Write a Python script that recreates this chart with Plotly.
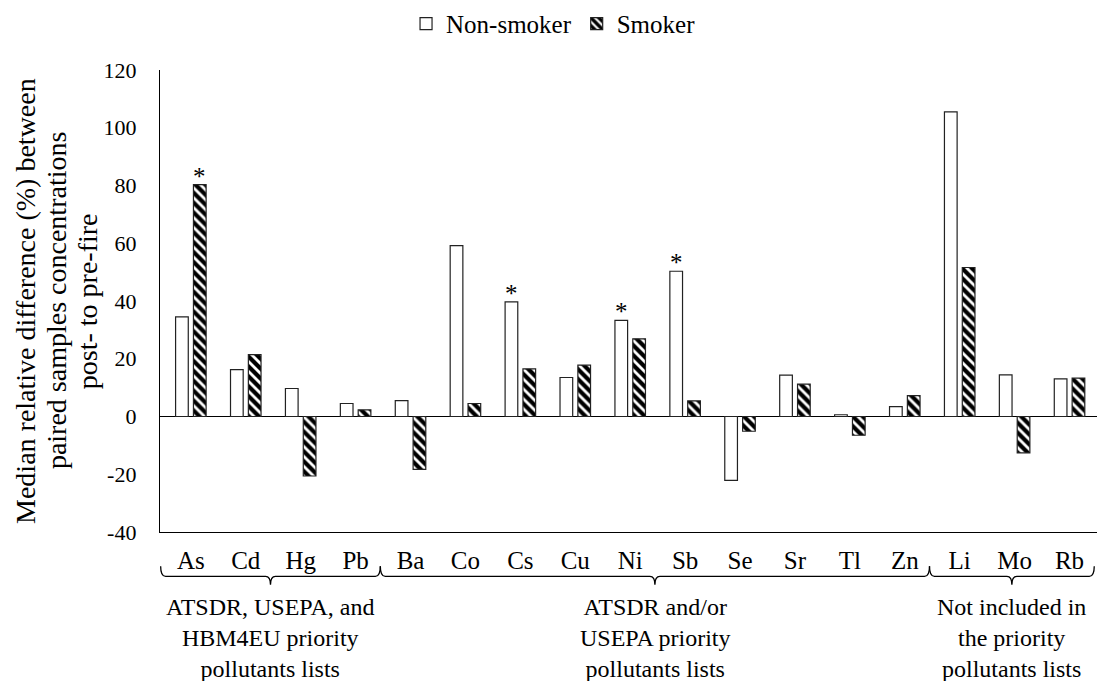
import plotly.graph_objects as go

elements = ["As", "Cd", "Hg", "Pb", "Ba", "Co", "Cs", "Cu", "Ni", "Sb",
            "Se", "Sr", "Tl", "Zn", "Li", "Mo", "Rb"]
non_smoker = [34.5, 16.2, 9.7, 4.5, 5.5, 59.2, 39.7, 13.5, 33.3, 50.3,
              -22.1, 14.3, 0.6, 3.4, 105.5, 14.4, 13.0]
smoker = [80.3, 21.4, -20.6, 2.3, -18.3, 4.5, 16.5, 17.8, 26.9, 5.4,
          -5.1, 11.2, -6.5, 7.2, 51.6, -12.6, 13.3]
# significance marks: (element, series)
stars = [("As", "Smoker"), ("Cs", "Non-smoker"), ("Ni", "Non-smoker"), ("Sb", "Non-smoker")]
# groups: (label, first index, last index)
groups = [
    ("ATSDR, USEPA, and<br>HBM4EU priority<br>pollutants lists", 0, 3),
    ("ATSDR and/or<br>USEPA priority<br>pollutants lists", 4, 13),
    ("Not included in<br>the priority<br>pollutants lists", 14, 16),
]
y_ticks = [-40, -20, 0, 20, 40, 60, 80, 100, 120]
y_ticktext = ["-40", "-20", "0", "20", "40", "60", "80", "100", "120"]
y_title_lines = ["Median relative difference (%) between",
                 "paired samples concentrations",
                 "post- to pre-fire"]

FONT = "Liberation Serif, serif"

fig = go.Figure()
fig.add_trace(go.Bar(
    x=elements, y=non_smoker, name="Non-smoker",
    marker=dict(color="white", line=dict(color="#222222", width=1.2)),
))
fig.add_trace(go.Bar(
    x=elements, y=smoker, name="Smoker",
    marker=dict(color="white", line=dict(color="#222222", width=1.2),
                pattern=dict(shape="\\", fgcolor="black", bgcolor="white",
                             size=7, solidity=0.6, fgopacity=1)),
))

vals = {"Non-smoker": dict(zip(elements, non_smoker)),
        "Smoker": dict(zip(elements, smoker))}
for el, ser in stars:
    fig.add_annotation(
        x=el, y=vals[ser][el], xref="x", yref="y",
        text="*", showarrow=False, yanchor="bottom",
        xshift=-9 if ser == "Non-smoker" else 9, yshift=-7,
        font=dict(family=FONT, size=25, color="black"),
    )

# braces below the category labels
y_top, y_mid, y_bot = -0.074, -0.096, -0.114
for label, i0, i1 in groups:
    x0 = i0 - 0.55
    x1 = min(i1 + 0.45, 16.49)
    xm = (x0 + x1) / 2
    d = 0.09
    path = (f"M {x0},{y_top} Q {x0},{y_mid} {x0+d},{y_mid} "
            f"L {xm-d},{y_mid} Q {xm},{y_mid} {xm},{y_bot} "
            f"Q {xm},{y_mid} {xm+d},{y_mid} "
            f"L {x1-d},{y_mid} Q {x1},{y_mid} {x1},{y_top}")
    fig.add_shape(type="path", path=path, xref="x", yref="paper",
                  line=dict(color="black", width=1.3))
    fig.add_annotation(
        x=xm, y=-0.13, xref="x", yref="paper", text=label,
        showarrow=False, yanchor="top", xanchor="center",
        font=dict(family=FONT, size=24, color="black"),
    )

# y-axis title, one annotation per line for tight line spacing
for k, line in enumerate(y_title_lines):
    fig.add_annotation(
        x=-0.1441 + k * 0.0332, y=0.5, xref="paper", yref="paper", textangle=-90,
        text=line, showarrow=False, xanchor="center", yanchor="middle",
        font=dict(family=FONT, size=28, color="black"),
    )

fig.update_layout(
    width=1098, height=681,
    margin=dict(l=160, r=1, t=66, b=149),
    paper_bgcolor="white", plot_bgcolor="white",
    barmode="group", bargap=0.35, bargroupgap=0.29,
    font=dict(family=FONT, size=25, color="black"),
    showlegend=True,
    legend=dict(orientation="h", x=0.42, xanchor="center", y=1.1, yanchor="middle",
                font=dict(family=FONT, size=25, color="black"),
                bgcolor="rgba(0,0,0,0)", itemwidth=30),
)
fig.update_xaxes(
    showline=True, linecolor="black", linewidth=1.3, showgrid=False,
    zeroline=False, ticks="outside", ticklen=6, tickcolor="rgba(0,0,0,0)",
    tickfont=dict(family=FONT, size=25, color="black"), mirror=False,
)
fig.update_yaxes(
    range=[-40, 120], tickvals=y_ticks, ticktext=y_ticktext, showline=True,
    linecolor="black", linewidth=1.3, showgrid=False, zeroline=True,
    zerolinecolor="black", zerolinewidth=1.3, ticks="outside", ticklen=18,
    tickcolor="rgba(0,0,0,0)",
    tickfont=dict(family=FONT, size=22, color="black"),
)

fig.write_html("out.html")
